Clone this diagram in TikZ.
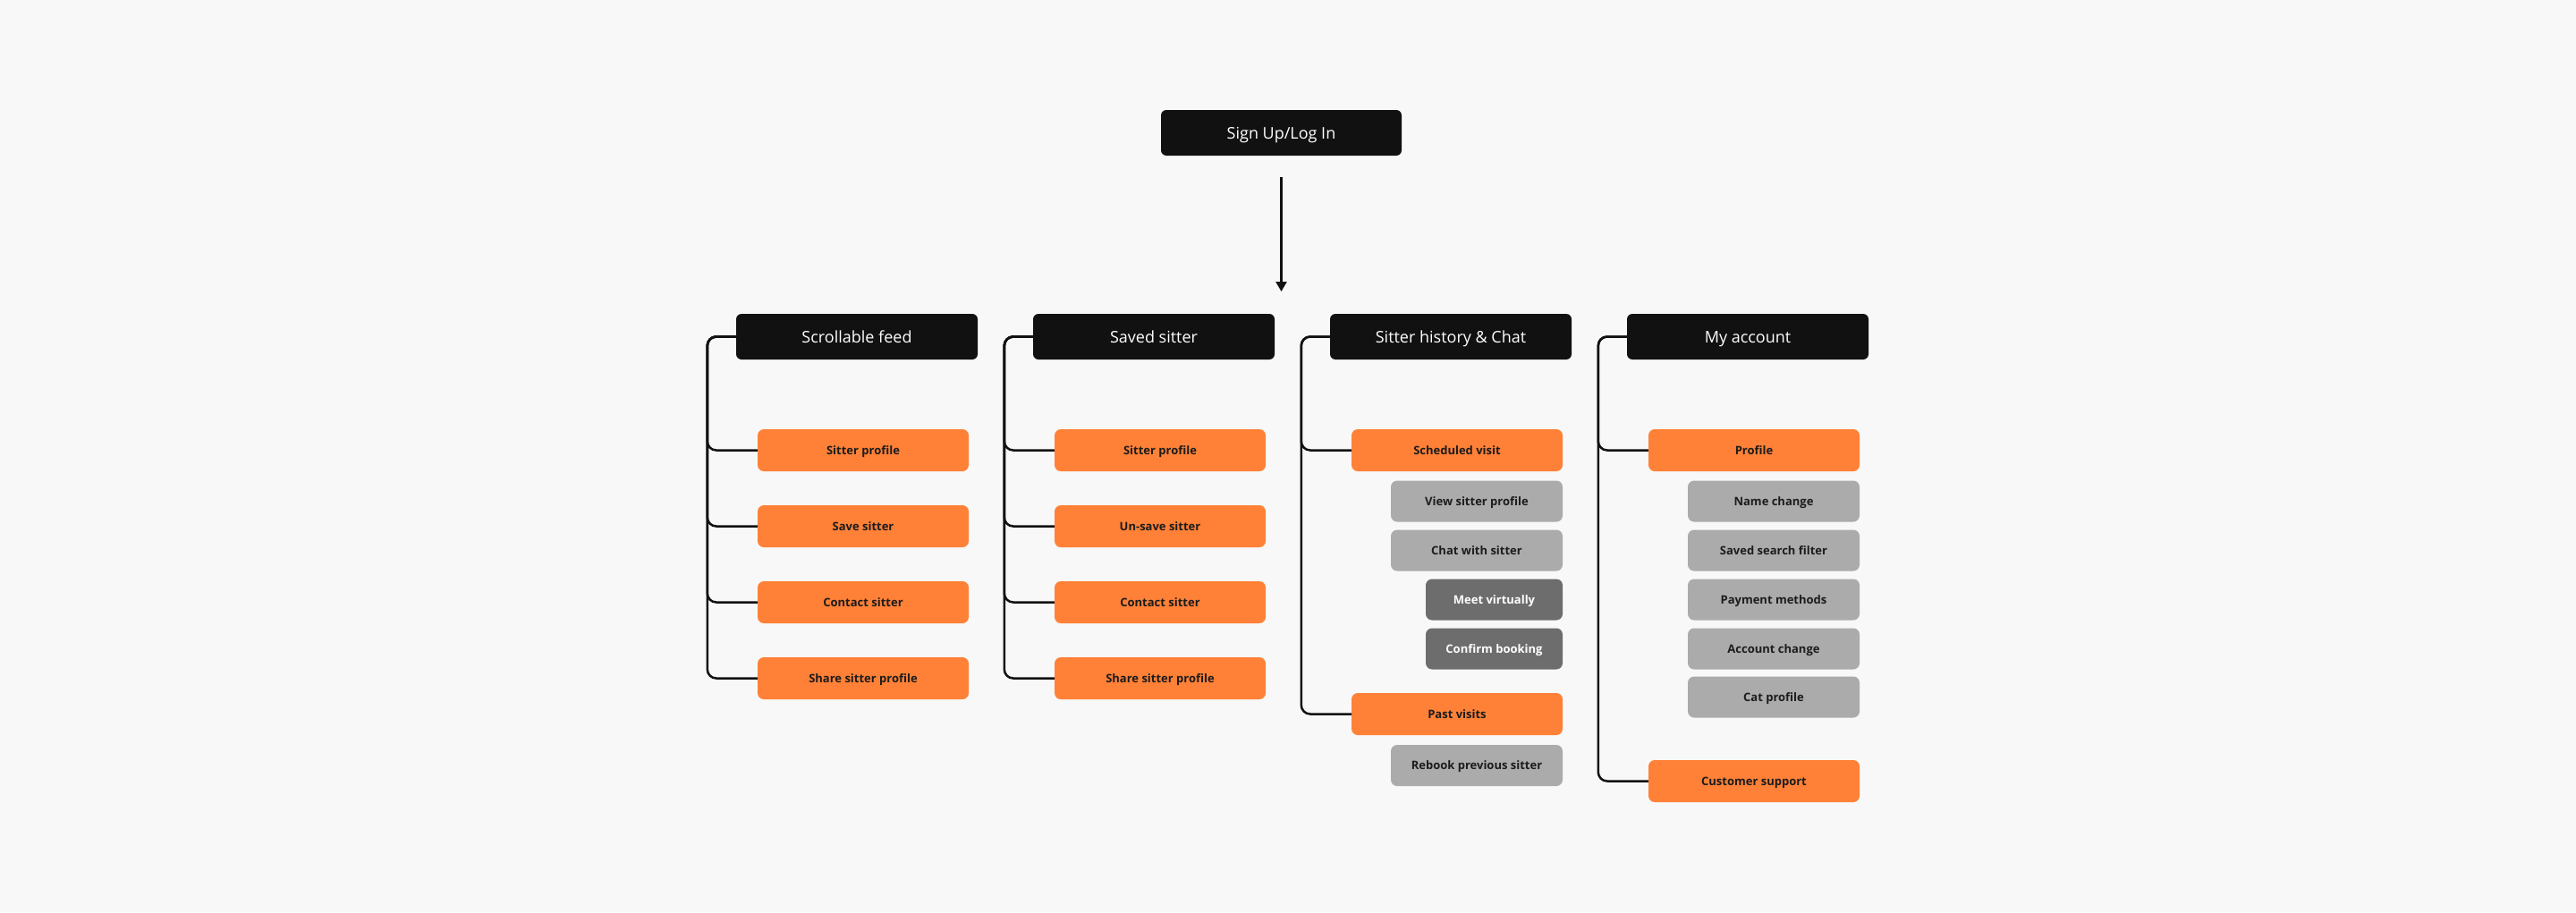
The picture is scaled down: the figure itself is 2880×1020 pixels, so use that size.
\documentclass[tikz,border=0pt]{standalone}
\usepackage{fontspec}
\setmainfont{Open Sans}
\usetikzlibrary{arrows.meta}
\definecolor{bgc}{HTML}{F8F8F8}
\definecolor{ink}{HTML}{111111}
\definecolor{orng}{HTML}{FF8137}
\definecolor{greyc}{HTML}{ABABAB}
\definecolor{darkg}{HTML}{6D6D6D}
\definecolor{txt}{HTML}{1C1C1C}
\begin{document}
\begin{tikzpicture}[x=1pt,y=-1pt,
  hdr/.style={fill=ink, text=white, rounded corners=6pt, minimum width=270pt, minimum height=51pt, inner sep=0pt, text height=14pt, text depth=1pt, font=\fontsize{18}{20}\selectfont},
  item/.style={fill=orng, text=txt, rounded corners=7pt, minimum width=236pt, minimum height=47pt, inner sep=0pt, text height=10.5pt, text depth=1pt, font=\fontsize{13}{15}\selectfont\bfseries},
  sub/.style={item, fill=greyc, minimum width=192pt, minimum height=46pt},
  subd/.style={item, fill=darkg, text=white, minimum width=153pt, minimum height=46pt},
  conn/.style={draw=ink, line width=2.5pt, rounded corners=10pt},
  arr/.style={draw=ink, line width=2.5pt, -{Triangle[width=12pt,length=11pt]}}
]
\fill[bgc] (0,0) rectangle (2880,1020);

\node[hdr, minimum width=269pt] (top) at (1432.5,148.5) {Sign Up/Log In};
\coordinate (tip) at (1432.5,326);
\draw[arr, shorten <=24pt] (top.south) -- (tip);

% Column 1
\node[hdr] (h1) at (958,376.5) {Scrollable feed};
\node[item] (a1) at (965,503.5) {Sitter profile};
\node[item] (a2) at (965,588.5) {Save sitter};
\node[item] (a3) at (965,673.5) {Contact sitter};
\node[item] (a4) at (965,758.5) {Share sitter profile};
\foreach \c in {a1,a2,a3,a4} \draw[conn] (h1.west) -- ++(-32,0) |- (\c.west);

% Column 2
\node[hdr] (h2) at (1290,376.5) {Saved sitter};
\node[item] (b1) at (1297,503.5) {Sitter profile};
\node[item] (b2) at (1297,588.5) {Un-save sitter};
\node[item] (b3) at (1297,673.5) {Contact sitter};
\node[item] (b4) at (1297,758.5) {Share sitter profile};
\foreach \c in {b1,b2,b3,b4} \draw[conn] (h2.west) -- ++(-32,0) |- (\c.west);

% Column 3
\node[hdr] (h3) at (1622,376.5) {Sitter history \& Chat};
\node[item] (c1) at (1629,503.5) {Scheduled visit};
\node[sub] (c1a) at (1651,560.5) {View sitter profile};
\node[sub] (c1b) at (1651,615.5) {Chat with sitter};
\node[subd] (c1c) at (1670.5,670.5) {Meet virtually};
\node[subd] (c1d) at (1670.5,725.5) {Confirm booking};
\node[item] (c2) at (1629,798.5) {Past visits};
\node[sub] (c2a) at (1651,856) {Rebook previous sitter};
\foreach \c in {c1,c2} \draw[conn] (h3.west) -- ++(-32,0) |- (\c.west);

% Column 4
\node[hdr] (h4) at (1954,376.5) {My account};
\node[item] (d1) at (1961,503.5) {Profile};
\node[sub] (d1a) at (1983,560.5) {Name change};
\node[sub] (d1b) at (1983,615.5) {Saved search filter};
\node[sub] (d1c) at (1983,670.5) {Payment methods};
\node[sub] (d1d) at (1983,725.5) {Account change};
\node[sub] (d1e) at (1983,779.5) {Cat profile};
\node[item] (d2) at (1961,873.5) {Customer support};
\foreach \c in {d1,d2} \draw[conn] (h4.west) -- ++(-32,0) |- (\c.west);
\end{tikzpicture}
\end{document}
